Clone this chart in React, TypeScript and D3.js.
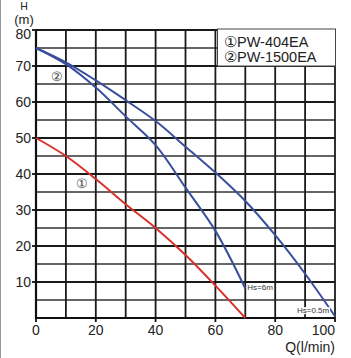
import React, { useEffect, useRef } from 'react'
import * as d3 from 'd3'

// flow Q (l/min) vs head H (m)
const curve1 = [[0, 50], [10, 45], [20, 38.6], [30, 31.6], [40, 25], [50, 17.5], [60, 9], [70, 0]]
const curve2a = [[0, 75], [10, 70.5], [20, 64], [30, 56], [40, 48], [50, 36.2], [60, 24.2], [70, 8.2]]
const curve2b = [[0, 75], [10, 71], [20, 66], [30, 60.5], [40, 54.7], [50, 47.6], [60, 40.4], [70, 32.5], [80, 23], [90, 12.3], [100, 0.5]]
const xTicks = [0, 20, 40, 60, 80, 100]
const yTicks = [10, 20, 30, 40, 50, 60, 70, 80]
const legendItems = ['①PW-404EA', '②PW-1500EA']

const W = 351
const H = 358

export default function App() {
  const ref = useRef<SVGSVGElement>(null)

  useEffect(() => {
    const svg = d3.select(ref.current)
    svg.selectAll('*').remove()

    const x = d3.scaleLinear().domain([0, 100]).range([36, 335])
    const y = d3.scaleLinear().domain([0, 80]).range([318, 30])
    const font = "'Liberation Sans', Arial, sans-serif"

    svg.append('rect').attr('width', W).attr('height', H).attr('fill', '#fff')
    svg.append('line')
      .attr('x1', 0.5).attr('x2', 0.5).attr('y1', 0).attr('y2', H)
      .attr('stroke', '#9a9a9a').attr('stroke-width', 1)

    // grid
    const grid = svg.append('g')
    grid.selectAll('line.h')
      .data(d3.range(5, 81, 5))
      .enter().append('line')
      .attr('x1', x(0)).attr('x2', x(100))
      .attr('y1', d => y(d)).attr('y2', d => y(d))
      .attr('stroke', d => d % 10 === 0 ? '#1a1a1a' : '#333')
      .attr('stroke-width', d => d % 10 === 0 ? 1.9 : 1.6)
    grid.selectAll('line.v')
      .data(d3.range(10, 101, 10))
      .enter().append('line')
      .attr('x1', d => x(d)).attr('x2', d => x(d))
      .attr('y1', y(0)).attr('y2', y(80))
      .attr('stroke', '#1a1a1a').attr('stroke-width', 1.8)

    // axes
    svg.append('line')
      .attr('x1', x(0)).attr('x2', x(0)).attr('y1', y(0) + 1).attr('y2', y(80))
      .attr('stroke', '#111').attr('stroke-width', 2.2)
    svg.append('line')
      .attr('x1', x(0) - 1).attr('x2', x(100)).attr('y1', y(0)).attr('y2', y(0))
      .attr('stroke', '#111').attr('stroke-width', 2.2)

    svg.selectAll('line.yt')
      .data(yTicks)
      .enter().append('line')
      .attr('x1', x(0) - 4).attr('x2', x(0))
      .attr('y1', d => y(d)).attr('y2', d => y(d))
      .attr('stroke', '#111').attr('stroke-width', 1.8)
    svg.selectAll('line.xt')
      .data(xTicks)
      .enter().append('line')
      .attr('x1', d => x(d)).attr('x2', d => x(d))
      .attr('y1', y(0)).attr('y2', y(0) + 4)
      .attr('stroke', '#111').attr('stroke-width', 1.8)

    svg.selectAll('text.yl')
      .data(yTicks)
      .enter().append('text')
      .attr('x', 31).attr('y', d => y(d) + (d === 80 ? 4 : 0))
      .attr('dy', '0.36em')
      .attr('text-anchor', 'end')
      .attr('font-family', font).attr('font-size', 14).attr('fill', '#222')
      .text(d => d)
    svg.selectAll('text.xl')
      .data(xTicks)
      .enter().append('text')
      .attr('x', d => x(d))
      .attr('y', 335)
      .attr('text-anchor', d => d === 100 ? 'end' : 'middle')
      .attr('font-family', font).attr('font-size', 14).attr('fill', '#222')
      .text(d => d)

    svg.append('text').attr('x', 24).attr('y', 10).attr('text-anchor', 'middle')
      .attr('font-family', font).attr('font-size', 10.5).attr('fill', '#222').text('H')
    svg.append('text').attr('x', 24).attr('y', 24).attr('text-anchor', 'middle')
      .attr('font-family', font).attr('font-size', 13).attr('fill', '#222').text('(m)')
    svg.append('text').attr('x', 335).attr('y', 352).attr('text-anchor', 'end')
      .attr('font-family', font).attr('font-size', 14).attr('fill', '#222').text('Q(l/min)')

    // curves
    const line = d3.line<number[]>()
      .x(d => x(d[0]))
      .y(d => y(d[1]))
      .curve(d3.curveCatmullRom.alpha(0.5))
    const series = [
      { data: curve1, color: '#d8312c' },
      { data: curve2a, color: '#3a4f9c' },
      { data: curve2b, color: '#3a4f9c' },
    ]
    svg.selectAll('path.c')
      .data(series)
      .enter().append('path')
      .attr('d', d => line(d.data))
      .attr('fill', 'none')
      .attr('stroke', d => d.color)
      .attr('stroke-width', 2)

    // curve markers
    svg.append('text').attr('x', 57).attr('y', 76).attr('dy', '0.36em').attr('text-anchor', 'middle')
      .attr('font-family', "'DejaVu Serif', serif").attr('font-size', 13).attr('fill', '#444').text('②')
    svg.append('text').attr('x', 82).attr('y', 183).attr('dy', '0.36em').attr('text-anchor', 'middle')
      .attr('font-family', "'DejaVu Serif', serif").attr('font-size', 13).attr('fill', '#444').text('①')

    // Hs labels
    const hsLabels = [
      { text: 'Hs=6m', q: 70, h: 8.2, dx: 2, dy: 2 },
      { text: 'Hs=0.5m', q: 100, h: 0.5, dx: -38, dy: -3 },
    ]
    hsLabels.forEach(l => {
      const g = svg.append('g')
      const t = g.append('text')
        .attr('x', x(l.q) + l.dx).attr('y', y(l.h) + l.dy)
        .attr('font-family', font).attr('font-size', 8).attr('fill', '#333')
        .text(l.text)
      const bb = (t.node() as SVGTextElement).getBBox()
      g.insert('rect', 'text')
        .attr('x', bb.x - 0.5).attr('y', bb.y + 1).attr('width', bb.width + 1).attr('height', bb.height - 2)
        .attr('fill', '#fff')
    })

    // legend
    svg.append('rect')
      .attr('x', 217.5).attr('y', 29).attr('width', 118).attr('height', 37)
      .attr('fill', '#fff').attr('stroke', '#444').attr('stroke-width', 1)
    svg.selectAll('text.lg')
      .data(legendItems)
      .enter().append('text')
      .attr('x', 224).attr('y', (d, i) => 47 + i * 15)
      .attr('font-family', font).attr('font-size', 14.5).attr('fill', '#222')
      .text(d => d)
  }, [])

  return (
    <div style={{ position: 'fixed', left: 0, top: 0 }}>
      <svg ref={ref} width={W} height={H} style={{ display: 'block' }} />
    </div>
  )
}
